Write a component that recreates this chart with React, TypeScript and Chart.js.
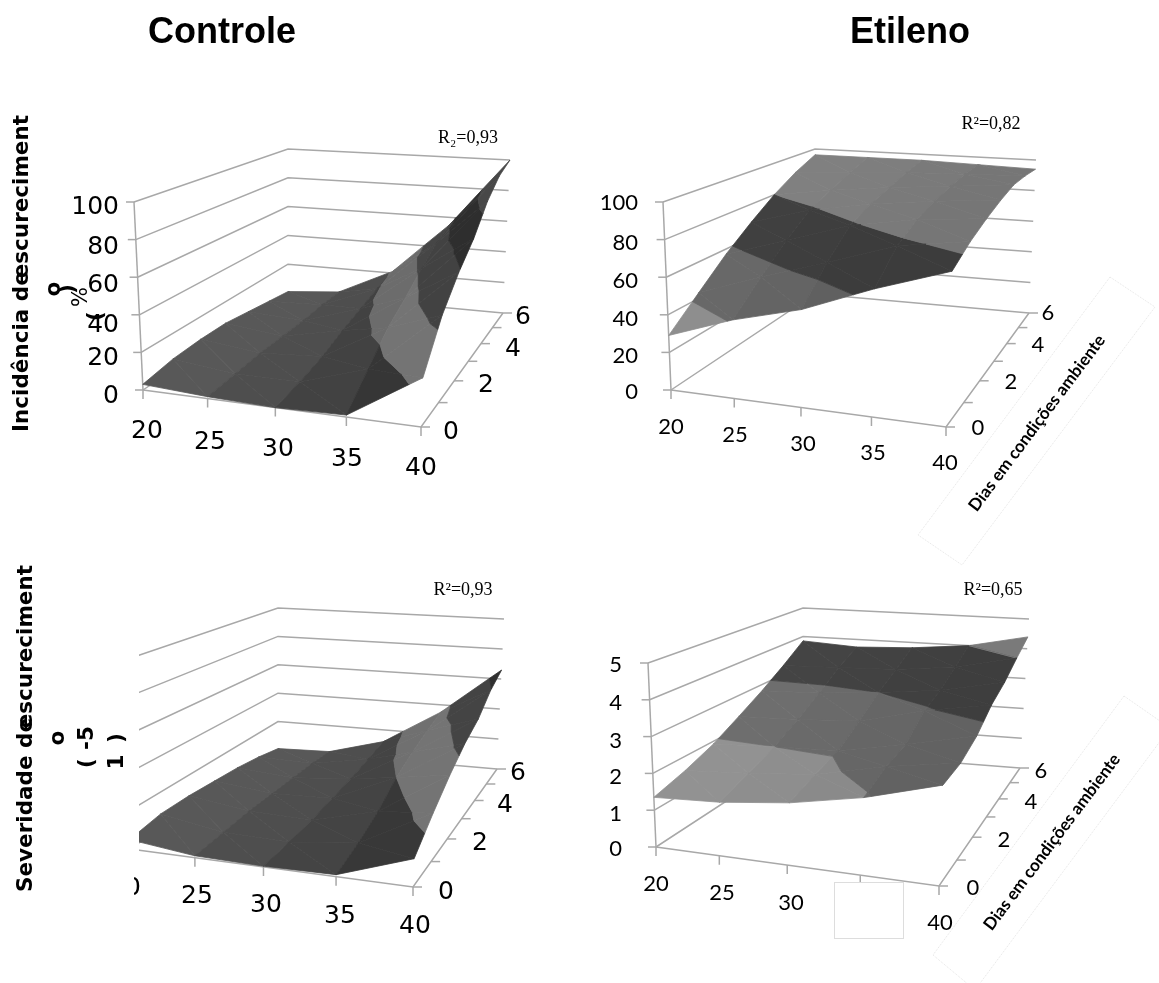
import React, { useEffect, useRef } from "react";
import { Chart, registerables } from "chart.js";

Chart.register(...registerables);

// ---------- data ----------
const temps = [20, 25, 30, 35, 40];
const days = [0, 1, 2, 3, 4, 5, 6];
const dayTickLabels = [0, 2, 4, 6];
const pctTicks = [0, 20, 40, 60, 80, 100];
const sevTicks = [0, 1, 2, 3, 4, 5];

const incidenciaControle = [
  [3, 1, 0, 1, 24],
  [6, 2, 2, 13, 45],
  [7, 3, 5, 25, 59],
  [7, 3, 10, 33, 70],
  [5, 3, 14, 42, 85],
  [3, 4, 18, 50, 95],
  [1, 4, 21, 55, 100],
];
const incidenciaEtileno = [
  [29, 41, 50, 64, 76],
  [43, 55, 66, 78, 83],
  [57, 68, 79, 85, 88],
  [69, 79, 85, 89, 92],
  [80, 85, 89, 92, 95],
  [89, 91, 93, 94, 95],
  [96, 96, 96, 95, 94],
];
const severidadeControle = [
  [0.25, 0.05, 0.02, 0.05, 0.69],
  [0.4, 0.1, 0.05, 0.25, 1.25],
  [0.4, 0.15, 0.1, 0.55, 1.75],
  [0.35, 0.15, 0.2, 1.0, 2.17],
  [0.3, 0.15, 0.3, 1.3, 2.47],
  [0.2, 0.15, 0.45, 1.55, 2.98],
  [0.05, 0.1, 0.6, 1.75, 3.3],
];
const severidadeEtileno = [
  [1.35, 1.42, 1.61, 1.95, 2.46],
  [1.6, 1.7, 1.85, 2.25, 2.52],
  [1.92, 2.0, 2.05, 2.4, 2.79],
  [2.35, 2.4, 2.5, 2.95, 3.26],
  [2.8, 2.85, 3.0, 3.2, 3.57],
  [3.3, 3.35, 3.4, 3.6, 4.0],
  [3.85, 3.74, 3.82, 4.0, 4.4],
];

// ---------- panel layout ----------
type Pt = [number, number];
type Panel = {
  values: number[][];
  zTicks: number[];
  floor: Pt[]; // front-left, front-right, back-right, back-left
  top: Pt[];
  shades: number[][]; // grey level per z band, per temperature column
};

const panels: Panel[] = [
  {
    values: incidenciaControle,
    zTicks: pctTicks,
    floor: [[143, 390], [421, 427], [503, 313], [288, 293]],
    top: [[134, 202], [429, 222], [510, 160], [288, 149]],
    shades: [
      [0x58, 0x4e, 0x42, 0x36],
      [0x6e, 0x6e, 0x6c, 0x74],
      [0x48, 0x48, 0x46, 0x42],
      [0x30, 0x30, 0x30, 0x2e],
      [0x48, 0x48, 0x48, 0x48],
    ],
  },
  {
    values: incidenciaEtileno,
    zTicks: pctTicks,
    floor: [[671, 390], [946, 427], [1029, 313], [815, 294]],
    top: [[663, 202], [954, 222], [1036, 160], [815, 149]],
    shades: [
      [0x90, 0x90, 0x90, 0x90],
      [0x8e, 0x88, 0x84, 0x80],
      [0x68, 0x64, 0x60, 0x60],
      [0x40, 0x3e, 0x3c, 0x3c],
      [0x80, 0x7e, 0x7a, 0x76],
    ],
  },
  {
    values: severidadeControle,
    zTicks: sevTicks,
    floor: [[130, 849], [413, 887], [497, 769], [278, 750]],
    top: [[122, 661], [421, 682], [504, 619], [278, 608]],
    shades: [
      [0x58, 0x4e, 0x44, 0x38],
      [0x6e, 0x6e, 0x70, 0x74],
      [0x48, 0x48, 0x46, 0x44],
      [0x30, 0x30, 0x30, 0x30],
      [0x48, 0x48, 0x48, 0x48],
    ],
  },
  {
    values: severidadeEtileno,
    zTicks: sevTicks,
    floor: [[656, 847], [939, 886], [1020, 768], [803, 751]],
    top: [[648, 663], [947, 681], [1029, 619], [803, 608]],
    shades: [
      [0x90, 0x90, 0x90, 0x90],
      [0x92, 0x8e, 0x8a, 0x68],
      [0x6e, 0x6a, 0x66, 0x62],
      [0x44, 0x42, 0x40, 0x3e],
      [0x7a, 0x7a, 0x7a, 0x7a],
    ],
  },
];

// ---------- projection ----------
function quadMap(q: Pt[]) {
  const [[x0, y0], [x1, y1], [x2, y2], [x3, y3]] = q;
  const dx1 = x1 - x2, dx2 = x3 - x2, sx = x0 - x1 + x2 - x3;
  const dy1 = y1 - y2, dy2 = y3 - y2, sy = y0 - y1 + y2 - y3;
  const det = dx1 * dy2 - dx2 * dy1;
  const g = (sx * dy2 - dx2 * sy) / det;
  const h = (dx1 * sy - sx * dy1) / det;
  const a = x1 - x0 + g * x1, b = x3 - x0 + h * x3;
  const d = y1 - y0 + g * y1, e = y3 - y0 + h * y3;
  return (u: number, v: number): Pt => {
    const w = g * u + h * v + 1;
    return [(a * u + b * v + x0) / w, (d * u + e * v + y0) / w];
  };
}

function projector(p: Panel) {
  const fl = quadMap(p.floor);
  const tp = quadMap(p.top);
  const zMax = p.zTicks[p.zTicks.length - 1];
  return (t: number, d: number, z: number): { x: number; y: number } => {
    const u = (t - 20) / 20, v = d / 6, w = z / zMax;
    const a = fl(u, v), b = tp(u, v);
    return { x: a[0] + (b[0] - a[0]) * w, y: a[1] + (b[1] - a[1]) * w };
  };
}

type V3 = [number, number, number];
function clipZ(poly: V3[], limit: number, keepAbove: boolean): V3[] {
  const out: V3[] = [];
  const inside = (v: V3) => (keepAbove ? v[2] >= limit : v[2] <= limit);
  poly.forEach((a, i) => {
    const b = poly[(i + 1) % poly.length];
    if (inside(a)) out.push(a);
    if (inside(a) !== inside(b)) {
      const k = (limit - a[2]) / (b[2] - a[2]);
      out.push([a[0] + (b[0] - a[0]) * k, a[1] + (b[1] - a[1]) * k, limit]);
    }
  });
  return out;
}

const GRID = "#a8a8a8";

function line(points: { x: number; y: number }[], color = GRID, width = 1.5) {
  return {
    data: points, showLine: true, pointRadius: 0, borderColor: color,
    borderWidth: width, fill: false, tension: 0, clip: false as const,
  };
}

function panelDatasets(p: Panel) {
  const P = projector(p);
  const out: any[] = [];
  // walls
  p.zTicks.forEach((z) => {
    out.push(line([P(20, 0, z), P(20, 6, z), P(40, 6, z)]));
  });
  // axes
  const zMax = p.zTicks[p.zTicks.length - 1];
  out.push(line([P(20, 0, zMax), P(20, 0, 0)]));
  out.push(line([P(20, 0, 0), P(40, 0, 0), P(40, 6, 0)]));
  p.zTicks.forEach((z) => {
    const a = P(20, 0, z);
    out.push(line([a, { x: a.x - 8, y: a.y }]));
  });
  temps.forEach((t) => {
    const a = P(t, 0, 0);
    out.push(line([a, { x: a.x, y: a.y + 9 }]));
  });
  days.forEach((d) => {
    const a = P(40, d, 0);
    out.push(line([a, { x: a.x + 9, y: a.y }]));
  });
  // surface, back row first
  const step = p.zTicks[1] - p.zTicks[0];
  for (let r = days.length - 2; r >= 0; r--) {
    for (let c = 0; c < temps.length - 1; c++) {
      const v = (rr: number, cc: number): V3 => [temps[cc], days[rr], p.values[rr][cc]];
      const tris: V3[][] = [
        [v(r + 1, c), v(r + 1, c + 1), v(r, c + 1)],
        [v(r + 1, c), v(r, c + 1), v(r, c)],
      ];
      tris.forEach((tri) => {
        p.shades.forEach((cols, band) => {
          const lo = band * step, hi = (band + 1) * step;
          let poly = clipZ(tri, lo, true);
          if (poly.length) poly = clipZ(poly, hi, false);
          if (poly.length < 3) return;
          const g = cols[c];
          const color = `rgb(${g},${g},${g})`;
          const pts = poly.map((q) => P(q[0], q[1], q[2]));
          pts.push(pts[0]);
          out.push({
            data: pts, showLine: true, pointRadius: 0, tension: 0,
            borderColor: color, borderWidth: 0.8, backgroundColor: color,
            fill: "shape", clip: false as const,
          });
        });
      });
    }
  }
  return out;
}

// ---------- text ----------
type Txt = {
  s: string; x: number; y: number; font: string; rot?: number;
  align?: CanvasTextAlign; color?: string; clipLeft?: number;
};
const LEFT = "25px 'DejaVu Sans'";
const RIGHT = "22px Lato";
const YT = "bold 21.5px 'DejaVu Sans'";
const AX = "bold 17px Lato";
const R2 = "18px 'Liberation Serif'";
const ROT90 = -Math.PI / 2;

const texts: Txt[] = [
  { s: "Controle", x: 222, y: 33, font: "bold 36px 'Liberation Sans'" },
  { s: "Etileno", x: 910, y: 33, font: "bold 36px 'Liberation Sans'" },
  { s: "R₂=0,93", x: 468, y: 138, font: R2 },
  { s: "R²=0,82", x: 991, y: 124, font: R2 },
  { s: "R²=0,93", x: 463, y: 590, font: R2 },
  { s: "R²=0,65", x: 993, y: 590, font: R2 },
  // panel A
  ...pctTicks.map((s, i) => ({ s: String(s), x: 119, y: [396, 358, 325, 285, 247, 207][i], font: LEFT, align: "right" as const })),
  ...temps.map((s, i) => ({ s: String(s), x: [147, 210, 278, 347, 421][i], y: [431, 442, 449, 459, 468][i], font: LEFT })),
  ...dayTickLabels.map((s, i) => ({ s: String(s), x: [451, 486, 513, 523][i], y: [432, 385, 349, 317][i], font: LEFT })),
  // panel B
  ...pctTicks.map((s, i) => ({ s: String(s), x: 638, y: [392, 356, 319, 281, 243, 203][i], font: RIGHT, align: "right" as const })),
  ...temps.map((s, i) => ({ s: String(s), x: [671, 735, 803, 873, 945][i], y: [427, 435, 444, 453, 463][i], font: RIGHT })),
  ...dayTickLabels.map((s, i) => ({ s: String(s), x: [978, 1011, 1038, 1048][i], y: [428, 382, 345, 313][i], font: RIGHT })),
  // panel C
  { s: "20", x: 125, y: 888, font: LEFT, clipLeft: 134 },
  ...temps.slice(1).map((s, i) => ({ s: String(s), x: [197, 266, 340, 415][i], y: [896, 905, 916, 926][i], font: LEFT })),
  ...dayTickLabels.map((s, i) => ({ s: String(s), x: [446, 480, 505, 518][i], y: [892, 843, 805, 773][i], font: LEFT })),
  // panel D
  ...sevTicks.map((s, i) => ({ s: String(s), x: 622, y: [849, 814, 777, 741, 703, 665][i], font: RIGHT, align: "right" as const })),
  ...[20, 25, 30, 40].map((s, i) => ({ s: String(s), x: [656, 722, 791, 940][i], y: [884, 893, 903, 923][i], font: RIGHT })),
  ...dayTickLabels.map((s, i) => ({ s: String(s), x: [973, 1004, 1031, 1041][i], y: [888, 840, 802, 771][i], font: RIGHT })),
  // axis titles
  { s: "Incidência de", x: 22, y: 432, font: YT, rot: ROT90, align: "left" },
  { s: "escureciment", x: 22, y: 115, font: YT, rot: ROT90, align: "right" },
  { s: "o", x: 54, y: 289, font: YT, rot: ROT90 },
  { s: ")", x: 68, y: 289, font: YT, rot: ROT90 },
  { s: "%", x: 82, y: 297, font: "21px 'DejaVu Sans'", rot: ROT90 },
  { s: "(", x: 96, y: 316, font: YT, rot: ROT90 },
  { s: "Severidade de", x: 26, y: 892, font: YT, rot: ROT90, align: "left" },
  { s: "escureciment", x: 26, y: 565, font: YT, rot: ROT90, align: "right" },
  { s: "o", x: 58, y: 738, font: YT, rot: ROT90 },
  { s: "-5", x: 87, y: 738, font: YT, rot: ROT90 },
  { s: "(", x: 87, y: 763, font: YT, rot: ROT90 },
  { s: ")", x: 117, y: 738, font: YT, rot: ROT90 },
  { s: "1", x: 117, y: 762, font: YT, rot: ROT90 },
  { s: "Dias em condições ambiente", x: 1037, y: 423, font: AX, rot: -0.927 },
  { s: "Dias em condições ambiente", x: 1052, y: 842, font: AX, rot: -0.927 },
];

const titleBoxes: Pt[][] = [
  [[1110, 277], [1155, 307], [962, 565], [918, 535]],
  [[1124, 696], [1170, 728], [975, 990], [933, 955]],
];

const overlays = {
  id: "overlays",
  afterDatasetsDraw(chart: any) {
    const ctx: CanvasRenderingContext2D = chart.ctx;
    ctx.save();
    // white patches that cover parts of the lower panels
    ctx.fillStyle = "#fff";
    ctx.fillRect(40, 640, 99, 249);
    ctx.fillRect(834, 882, 69, 56);
    ctx.strokeStyle = "#dddddd";
    ctx.lineWidth = 1;
    ctx.strokeRect(834.5, 882.5, 69, 56);
    ctx.strokeStyle = "#e4e4e4";
    ctx.setLineDash([1, 1]);
    titleBoxes.forEach((b) => {
      ctx.beginPath();
      b.forEach((q, i) => (i ? ctx.lineTo(q[0], q[1]) : ctx.moveTo(q[0], q[1])));
      ctx.closePath();
      ctx.stroke();
    });
    ctx.setLineDash([]);
    ctx.textBaseline = "middle";
    texts.forEach((t) => {
      ctx.save();
      if (t.clipLeft) {
        ctx.beginPath();
        ctx.rect(t.clipLeft, 0, 1159, 983);
        ctx.clip();
      }
      ctx.translate(t.x, t.y);
      if (t.rot) ctx.rotate(t.rot);
      ctx.font = t.font;
      ctx.fillStyle = t.color || "#000";
      ctx.textAlign = t.align || "center";
      ctx.fillText(t.s, 0, 0);
      ctx.restore();
    });
    ctx.restore();
  },
};

export default function App() {
  const ref = useRef<HTMLCanvasElement | null>(null);
  useEffect(() => {
    if (!ref.current) return;
    const datasets = panels.flatMap(panelDatasets).reverse();
    const chart = new Chart(ref.current, {
      type: "scatter",
      data: { datasets },
      options: {
        animation: false,
        responsive: false,
        layout: { padding: 0 },
        plugins: { legend: { display: false }, tooltip: { enabled: false } },
        scales: {
          x: { type: "linear", min: 0, max: 1159, display: false },
          y: { type: "linear", min: 0, max: 983, reverse: true, display: false },
        },
      },
      plugins: [overlays],
    } as any);
    return () => chart.destroy();
  }, []);
  return (
    <div style={{ position: "absolute", left: 0, top: 0, width: 1159, height: 983, background: "#fff" }}>
      <canvas ref={ref} width={1159} height={983} style={{ display: "block" }} />
    </div>
  );
}
